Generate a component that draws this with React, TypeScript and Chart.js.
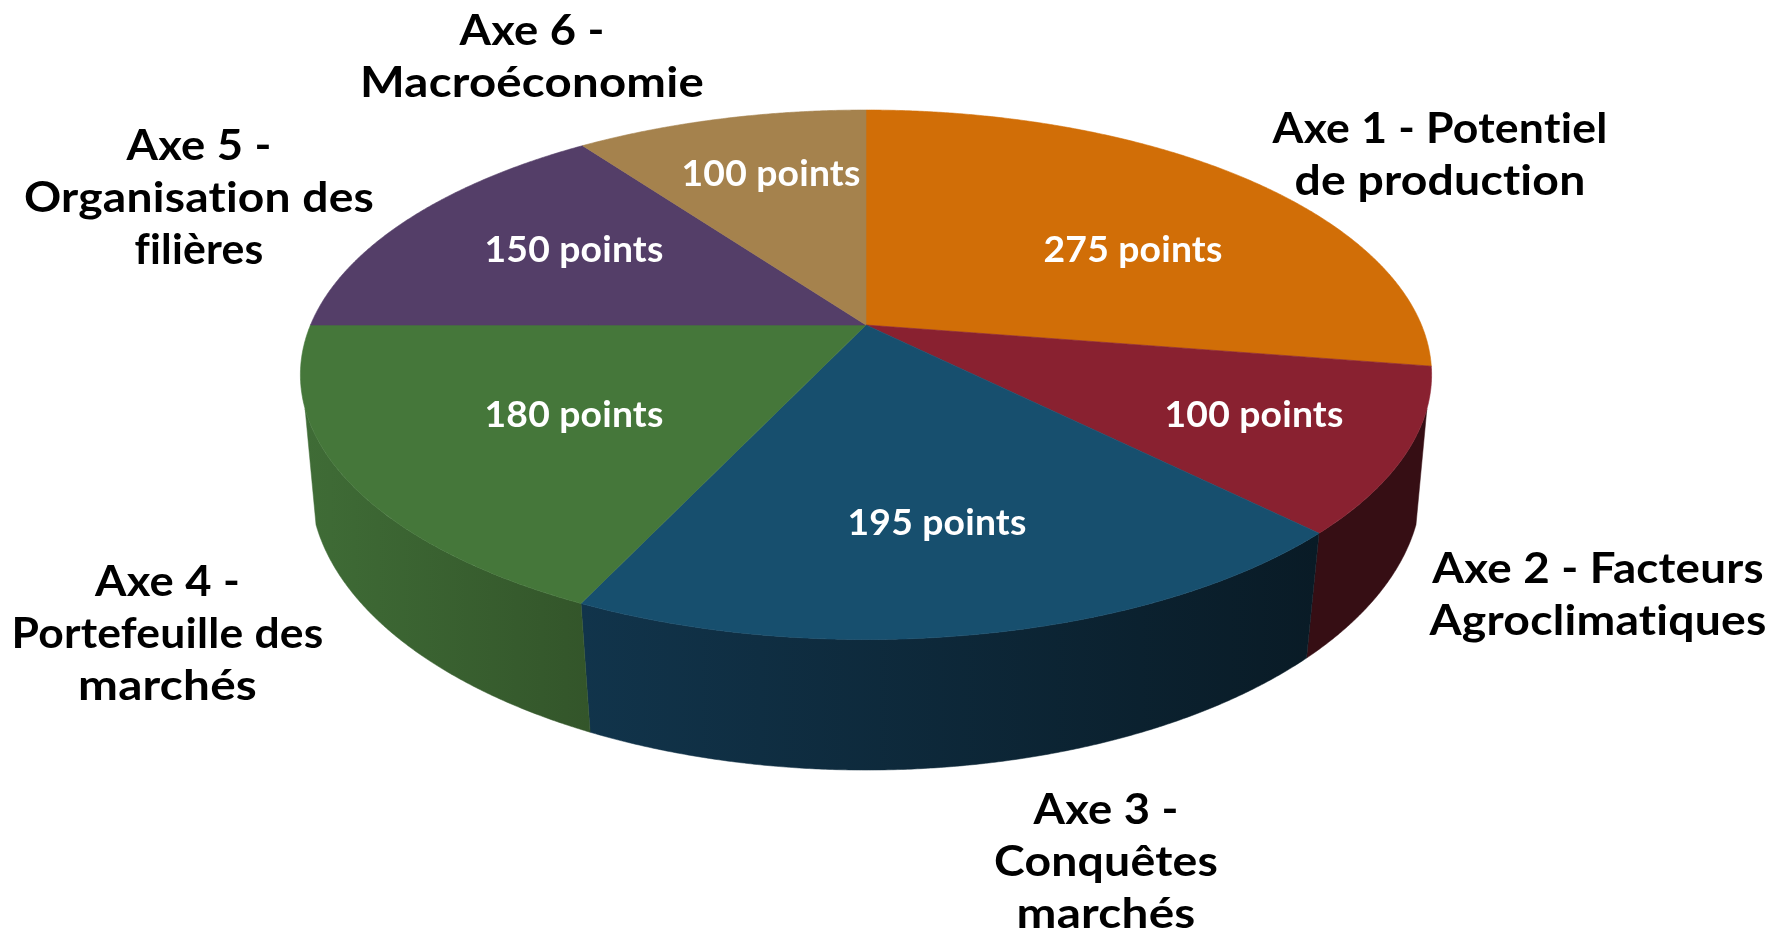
import React, { useEffect, useRef } from "react";
import { Chart, registerables } from "chart.js";

Chart.register(...registerables);

const axes = [
  ["Axe 1 - Potentiel", "de production"],
  ["Axe 2 - Facteurs", "Agroclimatiques"],
  ["Axe 3 -", "Conquêtes", "marchés"],
  ["Axe 4 -", "Portefeuille des", "marchés"],
  ["Axe 5 -", "Organisation des", "filières"],
  ["Axe 6 -", "Macroéconomie"],
];
const points = [275, 100, 195, 180, 150, 100];
const topColors = ["#D16E07", "#892130", "#174F6E", "#45773A", "#543E68", "#A5824D"];
const wallFrom = ["#6b3804", "#360E14", "#11344B", "#3F6C36", "#2a1f34", "#54422a"];
const wallTo = ["#6b3804", "#360E14", "#091B26", "#33552A", "#2a1f34", "#54422a"];

// Label layout (centre of each text and width of each line, canvas pixels)
const valueAnchors = [[1133, 250], [1254, 415], [937, 523], [574, 415], [574, 250], [771, 174]];
const nameAnchors = [[1440, 129], [1598, 569], [1106, 810], [167.5, 582], [199, 146], [532, 31]];
const nameWidths = [
  [335, 291],
  [331.5, 337],
  [145, 224, 179],
  [145, 312, 179],
  [145, 350, 129],
  [145, 344],
];
const VALUE_WIDTH = 179;
const LINE_HEIGHT = 52.2;

// Perspective of the disc: unit circle -> screen
const TOP = { A: 555.5, B: 255.4, k: -0.188, dy: 0 };
const BOTTOM = { A: 547.7, B: 278.6, k: -0.171, dy: 109 };
const WALL_START = (18 * Math.PI) / 180;
const WALL_END = (162 * Math.PI) / 180;

function project(cx: number, cy: number, p: typeof TOP, angle: number) {
  const u = Math.cos(angle);
  const v = Math.sin(angle);
  const d = 1 + p.k * v;
  return [cx + (p.A * u) / d, cy + p.dy + (p.B * v) / d];
}

function rim(cx: number, cy: number, p: typeof TOP, a0: number, a1: number) {
  const n = Math.max(2, Math.ceil(Math.abs(a1 - a0) / 0.005));
  const out: number[][] = [];
  for (let i = 0; i <= n; i++) out.push(project(cx, cy, p, a0 + ((a1 - a0) * i) / n));
  return out;
}

function fitText(ctx: CanvasRenderingContext2D, text: string, x: number, y: number, width: number) {
  const sx = width / ctx.measureText(text).width;
  ctx.save();
  ctx.translate(x, y);
  ctx.scale(sx, 1);
  ctx.fillText(text, 0, 0);
  ctx.restore();
}

const perspectivePie = {
  id: "perspectivePie",
  beforeDatasetDraw(chart: any) {
    const { ctx } = chart;
    const arcs = chart.getDatasetMeta(0).data;
    ctx.save();
    arcs.forEach((arc: any, i: number) => {
      const a0 = Math.max(arc.startAngle, WALL_START);
      const a1 = Math.min(arc.endAngle, WALL_END);
      if (a1 <= a0) return;
      const top = rim(arc.x, arc.y, TOP, a0, a1);
      const bot = rim(arc.x, arc.y, BOTTOM, a1, a0);
      const all = top.concat(bot);
      const xs = all.map((q) => q[0]);
      const g = ctx.createLinearGradient(Math.min(...xs), 0, Math.max(...xs), 0);
      g.addColorStop(0, wallFrom[i]);
      g.addColorStop(1, wallTo[i]);
      ctx.beginPath();
      all.forEach((q, j) => (j ? ctx.lineTo(q[0], q[1]) : ctx.moveTo(q[0], q[1])));
      ctx.closePath();
      ctx.fillStyle = g;
      ctx.strokeStyle = g;
      ctx.lineWidth = 0.5;
      ctx.fill();
      ctx.stroke();
    });
    arcs.forEach((arc: any, i: number) => {
      const pts = rim(arc.x, arc.y, TOP, arc.startAngle, arc.endAngle);
      ctx.beginPath();
      ctx.moveTo(arc.x, arc.y);
      pts.forEach((q) => ctx.lineTo(q[0], q[1]));
      ctx.closePath();
      ctx.fillStyle = topColors[i];
      ctx.strokeStyle = topColors[i];
      ctx.lineWidth = 0.6;
      ctx.fill();
      ctx.stroke();
    });
    ctx.restore();
    return false;
  },
  afterDatasetsDraw(chart: any) {
    const { ctx } = chart;
    ctx.save();
    ctx.textAlign = "center";
    ctx.textBaseline = "middle";
    (ctx as any).letterSpacing = "0.2px";
    ctx.font = "bold 37px Lato";
    ctx.fillStyle = "#ffffff";
    points.forEach((v, i) => {
      fitText(ctx, `${v} points`, valueAnchors[i][0], valueAnchors[i][1], VALUE_WIDTH);
    });
    ctx.font = "bold 42px Lato";
    ctx.fillStyle = "#000000";
    axes.forEach((lines, i) => {
      lines.forEach((line, j) => {
        fitText(ctx, line, nameAnchors[i][0], nameAnchors[i][1] + j * LINE_HEIGHT, nameWidths[i][j]);
      });
    });
    ctx.restore();
  },
};

export default function App() {
  const ref = useRef<HTMLCanvasElement>(null);
  useEffect(() => {
    if (!ref.current) return;
    const chart = new Chart(ref.current, {
      type: "pie",
      data: {
        labels: axes.map((a) => a.join(" ")),
        datasets: [{ data: points, backgroundColor: topColors, borderWidth: 0 }],
      },
      options: {
        responsive: false,
        animation: false,
        layout: { padding: { left: 0, top: 0, right: 42, bottom: 280 } },
        plugins: { legend: { display: false }, tooltip: { enabled: false }, title: { display: false } },
      },
      plugins: [perspectivePie],
    } as any);
    return () => chart.destroy();
  }, []);
  return (
    <div style={{ position: "fixed", left: 0, top: 0, width: 1774, height: 930, background: "#fff" }}>
      <canvas ref={ref} width={1774} height={930} style={{ display: "block" }} />
    </div>
  );
}
